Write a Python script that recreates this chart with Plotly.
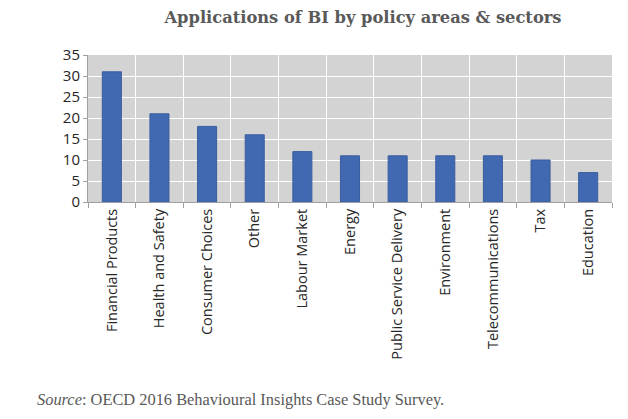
import plotly.graph_objects as go

categories = ["Financial Products", "Health and Safety", "Consumer Choices", "Other",
              "Labour Market", "Energy", "Public Service Delivery", "Environment",
              "Telecommunications", "Tax", "Education"]
values = [31, 21, 18, 16, 12, 11, 11, 11, 11, 10, 7]

fig = go.Figure(go.Bar(x=categories, y=values, marker=dict(color="#4169b2", line=dict(color="#3a5d9e", width=1)),
                       width=0.4))

H = 419
fig.update_layout(
    width=628, height=H,
    margin=dict(l=88, r=16, t=55, b=217),
    paper_bgcolor="white", plot_bgcolor="#d3d3d3",
    showlegend=False,
    title=dict(text="<b>Applications of BI by policy areas & sectors</b>",
               font=dict(family="DejaVu Serif", size=16.3, color="#595959"),
               x=363 / 628, xanchor="center", y=1 - 17 / H, yanchor="middle"),
    annotations=[dict(text="<i>Source</i>: OECD 2016 Behavioural Insights Case Study Survey.",
                      xref="paper", yref="paper", x=(35 - 88) / 524, y=-(399 - 202) / 147,
                      xanchor="left", yanchor="middle",
                      showarrow=False, font=dict(family="Liberation Serif", size=16.4, color="#595959"))],
)
fig.update_xaxes(type="category", tickson="boundaries", showgrid=True, gridcolor="white", gridwidth=1,
                 tickangle=-90, ticks="outside", ticklen=5, tickcolor="#a0a0a0",
                 showline=True, linecolor="#a0a0a0", automargin=False,
                 tickfont=dict(family="Open Sans", size=14.5, color="#262626"))
fig.update_yaxes(range=[0, 35], dtick=5, showgrid=True, gridcolor="white", gridwidth=1,
                 ticks="outside", ticklen=4, tickcolor="#a0a0a0", showline=True, linecolor="#a0a0a0",
                 zeroline=False, automargin=False,
                 tickfont=dict(family="Open Sans", size=15, color="#262626"))

fig.write_html("out.html", config={"displayModeBar": False},
               post_script="document.body.style.margin='0';")
